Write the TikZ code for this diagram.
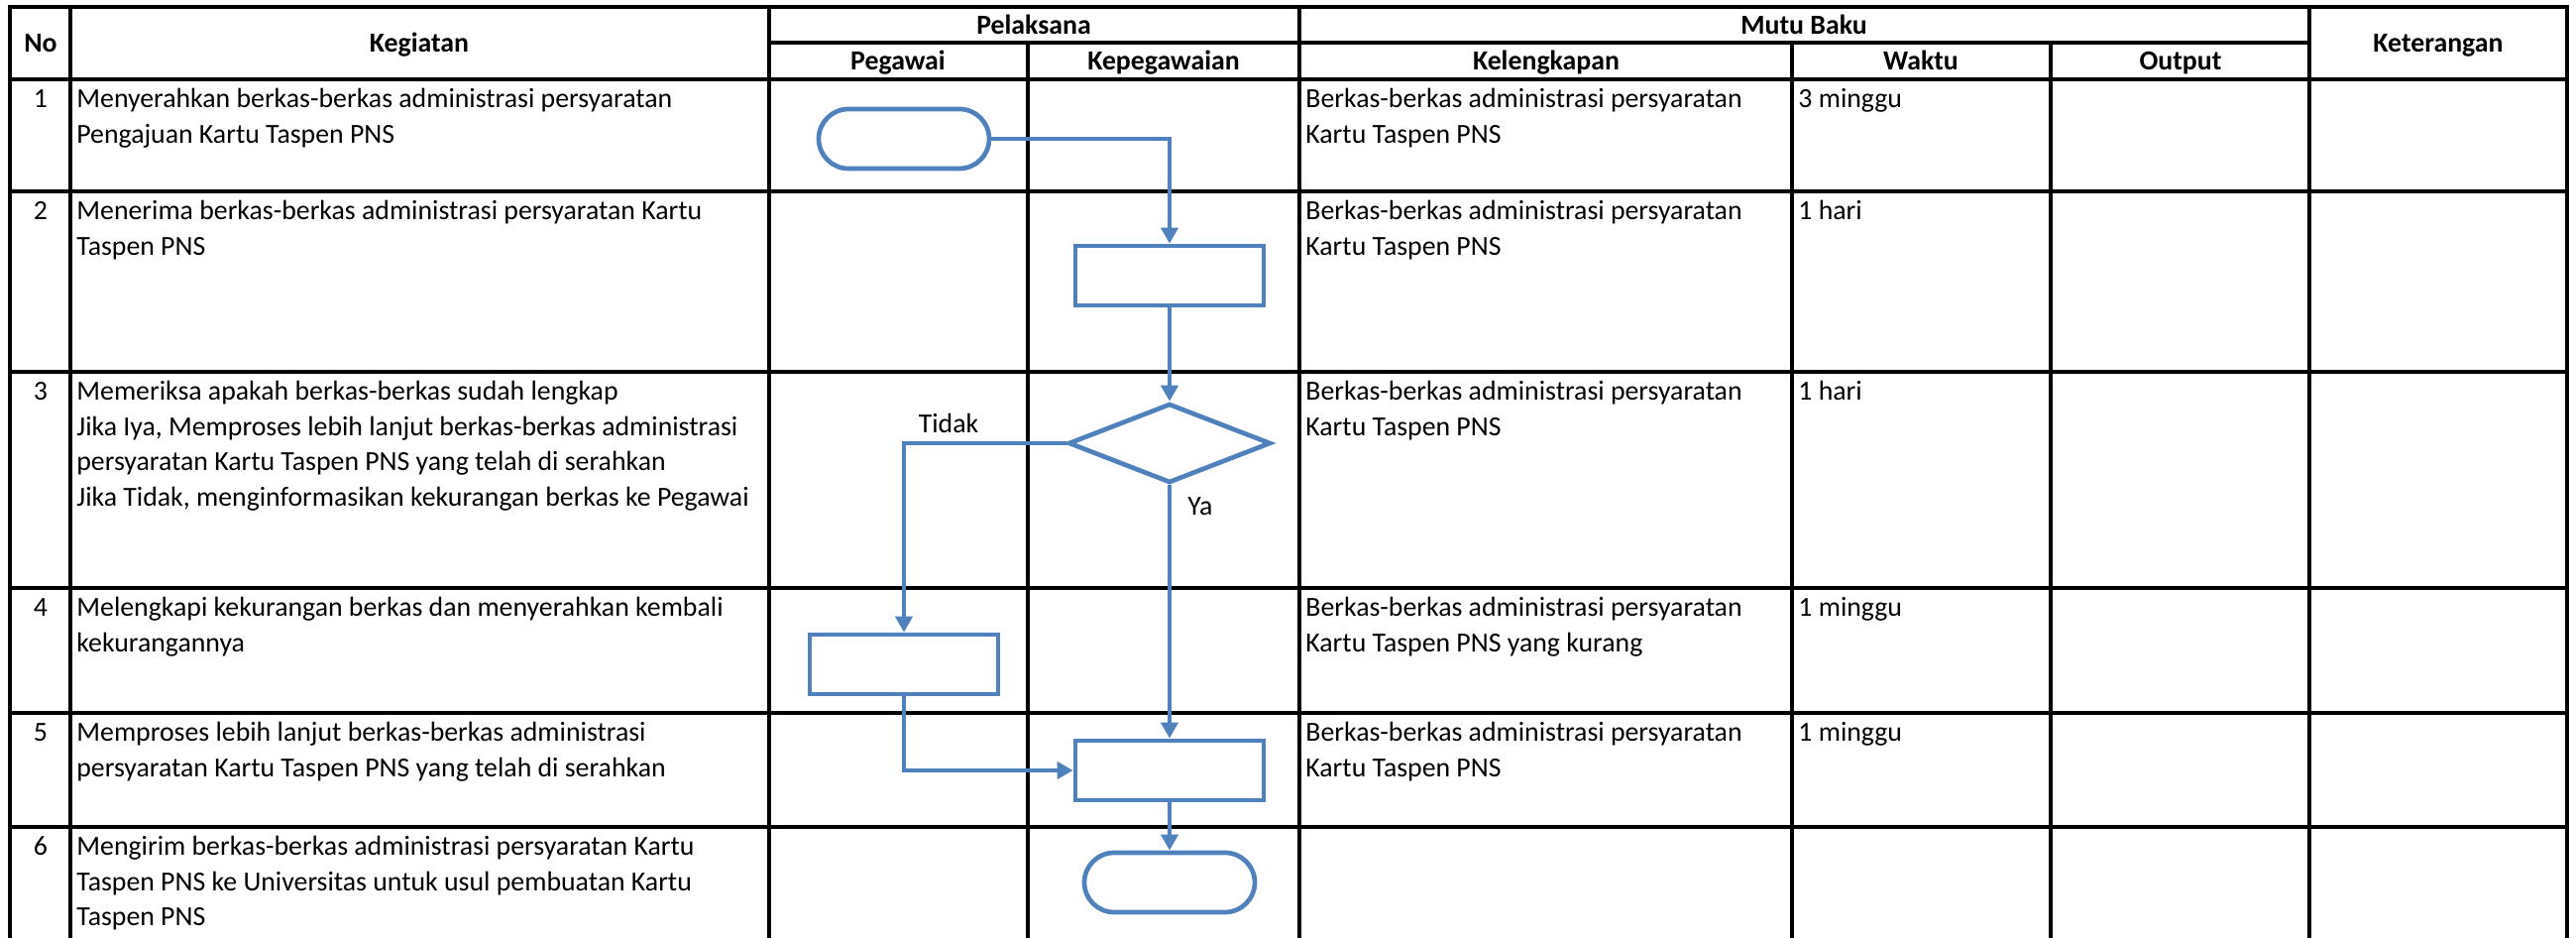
\documentclass[tikz,border=0pt]{standalone}
\usepackage{fontspec}
\setmainfont{Carlito}
\usetikzlibrary{arrows.meta, shapes.geometric, shapes.misc}
\usepackage{xcolor}
\definecolor{flowblue}{HTML}{4F81BD}

\tikzset{
  rule/.style={line width=1.6pt, black},
  flow/.style={draw=flowblue, line width=2.35pt, inner sep=0pt},
  terminal/.style={flow, rounded rectangle, minimum width=86pt, minimum height=30pt},
  process/.style={flow, rectangle, minimum width=95pt, minimum height=30pt},
  decision/.style={flow, diamond, minimum width=102pt, minimum height=40pt},
  link/.style={draw=flowblue, line width=2.35pt, -{Triangle[length=8pt, width=8.5pt]}},
  head/.style={font=\fontsize{13.9}{17.75}\selectfont\bfseries, anchor=base},
  cell/.style={anchor=north west, inner sep=0pt, align=left},
  num/.style={anchor=north, inner sep=0pt},
}

\begin{document}
\begin{tikzpicture}[x=0.5pt, y=-0.5pt, font=\fontsize{13.9}{17.75}\selectfont]
\useasboundingbox (0,0) rectangle (2599,946);

% table frame
\draw[rule] (10,946) -- (10,7) -- (2590,7) -- (2590,946);
\draw[rule] (776,43) -- (2330,43);
\draw[rule] (10,80) -- (2590,80);
\draw[rule] (10,193) -- (2590,193);
\draw[rule] (10,375) -- (2590,375);
\draw[rule] (10,593) -- (2590,593);
\draw[rule] (10,719) -- (2590,719);
\draw[rule] (10,834) -- (2590,834);
\draw[rule] (71,7) -- (71,946);
\draw[rule] (776,7) -- (776,946);
\draw[rule] (1037,43) -- (1037,946);
\draw[rule] (1311,7) -- (1311,946);
\draw[rule] (1808,43) -- (1808,946);
\draw[rule] (2069,43) -- (2069,946);
\draw[rule] (2330,7) -- (2330,946);

% header
\node[head] (hno) at (41,52.5) {No};
\node[head] (hkeg) at (423,52.5) {Kegiatan};
\node[head] (hpel) at (1043,34.5) {Pelaksana};
\node[head] (hpeg) at (906,71) {Pegawai};
\node[head] (hkpg) at (1174,71) {Kepegawaian};
\node[head] (hmutu) at (1820,34.5) {Mutu Baku};
\node[head] (hkel) at (1560,71) {Kelengkapan};
\node[head] (hwkt) at (1938,71) {Waktu};
\node[head] (hout) at (2200,71) {Output};
\node[head] (hket) at (2460,52.5) {Keterangan};

% rows
\node[num] (n1) at (41,83.6) {\strut 1};
\node[cell] (k1) at (77,83.6) {\strut Menyerahkan berkas-berkas administrasi persyaratan\\Pengajuan Kartu Taspen PNS};
\node[cell] (l1) at (1317,83.6) {\strut Berkas-berkas administrasi persyaratan\\Kartu Taspen PNS};
\node[cell] (w1) at (1814,83.6) {\strut 3 minggu};

\node[num] (n2) at (41,196.6) {\strut 2};
\node[cell] (k2) at (77,196.6) {\strut Menerima berkas-berkas administrasi persyaratan Kartu\\Taspen PNS};
\node[cell] (l2) at (1317,196.6) {\strut Berkas-berkas administrasi persyaratan\\Kartu Taspen PNS};
\node[cell] (w2) at (1814,196.6) {\strut 1 hari};

\node[num] (n3) at (41,378.6) {\strut 3};
\node[cell] (k3) at (77,378.6) {\strut Memeriksa apakah berkas-berkas sudah lengkap\\Jika Iya, Memproses lebih lanjut berkas-berkas administrasi\\persyaratan Kartu Taspen PNS yang telah di serahkan\\Jika Tidak, menginformasikan kekurangan berkas ke Pegawai};
\node[cell] (l3) at (1317,378.6) {\strut Berkas-berkas administrasi persyaratan\\Kartu Taspen PNS};
\node[cell] (w3) at (1814,378.6) {\strut 1 hari};

\node[num] (n4) at (41,596.6) {\strut 4};
\node[cell] (k4) at (77,596.6) {\strut Melengkapi kekurangan berkas dan menyerahkan kembali\\kekurangannya};
\node[cell] (l4) at (1317,596.6) {\strut Berkas-berkas administrasi persyaratan\\Kartu Taspen PNS yang kurang};
\node[cell] (w4) at (1814,596.6) {\strut 1 minggu};

\node[num] (n5) at (41,722.6) {\strut 5};
\node[cell] (k5) at (77,722.6) {\strut Memproses lebih lanjut berkas-berkas administrasi\\persyaratan Kartu Taspen PNS yang telah di serahkan};
\node[cell] (l5) at (1317,722.6) {\strut Berkas-berkas administrasi persyaratan\\Kartu Taspen PNS};
\node[cell] (w5) at (1814,722.6) {\strut 1 minggu};

\node[num] (n6) at (41,837.6) {\strut 6};
\node[cell] (k6) at (77,837.6) {\strut Mengirim berkas-berkas administrasi persyaratan Kartu\\Taspen PNS ke Universitas untuk usul pembuatan Kartu\\Taspen PNS};

% flow
\node[terminal] (start) at (912,140) {};
\node[process] (terima) at (1180,278) {};
\node[decision] (periksa) at (1180,447) {};
\node[process] (lengkapi) at (912,670) {};
\node[process] (proses) at (1180,777) {};
\node[terminal] (kirim) at (1180,890) {};
\node (tidak) at (957,426.5) {Tidak};
\node (ya) at (1211,510.5) {Ya};

\draw[link] (start.east) -| (terima.north);
\draw[link] (terima.south) -- (periksa.north);
\draw[link] (periksa.west) -| (lengkapi.north);
\draw[link] (periksa.south) -- (proses.north);
\draw[link] (lengkapi.south) |- (proses.west);
\draw[link] (proses.south) -- (kirim.north);
\end{tikzpicture}
\end{document}
